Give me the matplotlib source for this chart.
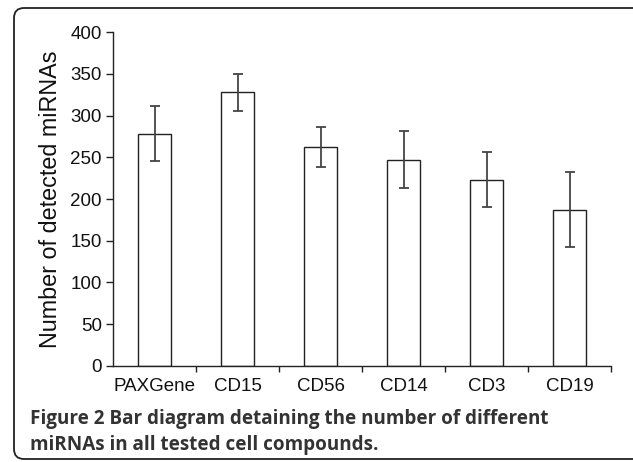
import numpy as np
import matplotlib
matplotlib.use('Agg')
import matplotlib.pyplot as plt
from matplotlib.patches import FancyBboxPatch

# Data
samples = ['PAXGene', 'CD15', 'CD56', 'CD14', 'CD3', 'CD19']
mirna_counts = [278, 328, 262, 247, 223, 187]
mirna_err = [33, 22, 24, 34, 33, 45]
y_ticks = [0, 50, 100, 150, 200, 250, 300, 350, 400]

W, H = 633, 462
fig = plt.figure(figsize=(W / 100, H / 100), dpi=100)

# Background frame with rounded corners (pixel coordinates)
bg = fig.add_axes([0, 0, 1, 1])
bg.set_xlim(0, W)
bg.set_ylim(H, 0)
bg.axis('off')
frame = FancyBboxPatch((14, 8), 640, 451, boxstyle='round,pad=0,rounding_size=10',
                       fc='white', ec='#222222', lw=1.3)
bg.add_patch(frame)

# Caption
cap_font = 'Open Sans'
bg.text(30, 424, 'Figure 2 Bar diagram detaining the number of different',
        fontsize=13.6, fontweight='bold', family=cap_font, color='#333333', va='baseline')
bg.text(30, 450, 'miRNAs in all tested cell compounds.', fontsize=13.6,
        fontweight='bold', family=cap_font, color='#333333', va='baseline')

# Chart
ax = fig.add_axes([113 / W, (H - 365.7) / H, 498 / W, 333.4 / H])
x = np.arange(len(samples))
ax.bar(x, mirna_counts, width=0.4, color='white', edgecolor='#222222', linewidth=1.0)
ax.errorbar(x, mirna_counts, yerr=mirna_err, fmt='none', ecolor='#444444',
            elinewidth=1.3, capsize=3.5, capthick=1.3)

ax.set_xlim(-0.5, len(samples) - 0.5)
ax.set_ylim(0, 400)
ax.set_yticks(y_ticks)
ax.set_xticks(x)
ax.set_xticklabels(samples)
ax.set_xticks(np.arange(len(samples)) + 0.5, minor=True)
ax.tick_params(axis='x', which='major', length=0, pad=9)
ax.tick_params(axis='x', which='minor', length=4, width=1, direction='out', color='#222222')
ax.tick_params(axis='y', length=5, width=1, color='#222222', pad=3)
for lab in ax.get_xticklabels() + ax.get_yticklabels():
    lab.set_family('Liberation Sans')
    lab.set_fontsize(13.5)
    lab.set_color('#111111')

ax.set_ylabel('Number of detected miRNAs', family='Liberation Sans', fontsize=16.8,
              color='#111111', labelpad=6)

for side in ['top', 'right']:
    ax.spines[side].set_visible(False)
for side in ['left', 'bottom']:
    ax.spines[side].set_color('#222222')
    ax.spines[side].set_linewidth(1.0)

fig.savefig('out.png', dpi=100)
